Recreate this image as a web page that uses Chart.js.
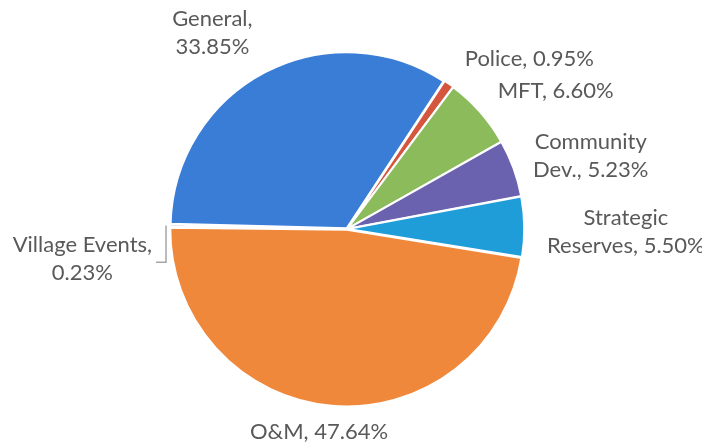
<!DOCTYPE html>
<html>
<head>
<meta charset="utf-8">
<script src="https://cdn.jsdelivr.net/npm/chart.js@4/dist/chart.umd.min.js"></script>
<style>
  html, body { margin: 0; padding: 0; background: #fff; }
  canvas { display: block; }
</style>
</head>
<body>
<canvas id="myChart" width="702" height="448"></canvas>
<script>
// Fund shares (percent of total), clockwise from the General slice
const categories = ['General', 'Police', 'MFT', 'Community Dev.', 'Strategic Reserves', 'O&M', 'Village Events'];
const shares = [33.85, 0.95, 6.60, 5.23, 5.50, 47.64, 0.23];

const sliceColors = [
  '#3A7DD6', // General
  '#D4563E', // Police
  '#8CBB5C', // MFT
  '#6A62AE', // Community Dev.
  '#1E9DD9', // Strategic Reserves
  '#F0883C', // O&M
  '#A5A5A5'  // Village Events
];

// label placement tweaks, roughly how Excel put them
const labelStyle = [
  { align: 'center', wrap: 95,  dx: -43, dy: -21 },
  { align: 'left',   wrap: 999, dx: 4,   dy: -8 },
  { align: 'left',   wrap: 999, dx: 2,   dy: -7 },
  { align: 'left',   wrap: 125, dx: 0,   dy: -5 },
  { align: 'left',   wrap: 170, dx: 2,   dy: 5 },
  { align: 'center', wrap: 999, dx: -11, dy: 6 },
  { align: 'right',  wrap: 150, dx: 3,   dy: 34, leader: true }
];

function wrapText(ctx, text, maxWidth) {
  const words = text.split(' ');
  const lines = [];
  let line = '';
  words.forEach(w => {
    const test = line ? line + ' ' + w : w;
    if (line && ctx.measureText(test).width > maxWidth) {
      lines.push(line);
      line = w;
    } else {
      line = test;
    }
  });
  if (line) lines.push(line);
  return lines;
}

const outsideLabels = {
  id: 'outsideLabels',
  afterDatasetsDraw(chart, args, opts) {
    const ctx = chart.ctx;
    const meta = chart.getDatasetMeta(0);
    const lineH = opts.lineHeight;
    ctx.save();
    ctx.font = opts.font;
    ctx.fillStyle = opts.color;
    ctx.textBaseline = 'middle';
    ctx.textAlign = 'center';
    meta.data.forEach((arc, i) => {
      const p = arc.getProps(['x', 'y', 'startAngle', 'endAngle', 'outerRadius'], true);
      const mid = (p.startAngle + p.endAngle) / 2;
      const r = p.outerRadius + opts.gap;
      const st = labelStyle[i];
      const ax = p.x + Math.cos(mid) * r + st.dx;
      const ay = p.y + Math.sin(mid) * r + st.dy;
      const text = categories[i] + ', ' + shares[i].toFixed(2) + '%';
      const lines = wrapText(ctx, text, st.wrap);
      const blockW = Math.max(...lines.map(l => ctx.measureText(l).width));
      let cx = ax;
      if (st.align === 'left') cx = ax + blockW / 2;
      if (st.align === 'right') cx = ax - blockW / 2;
      const top = ay - (lines.length - 1) * lineH / 2;
      lines.forEach((l, k) => ctx.fillText(l, cx, top + k * lineH));

      if (st.leader) {
        const ex = p.x + Math.cos(mid) * (p.outerRadius + 3);
        const ey = p.y + Math.sin(mid) * (p.outerRadius + 3);
        ctx.strokeStyle = '#A6A6A6';
        ctx.lineWidth = 1.5;
        ctx.beginPath();
        ctx.moveTo(cx + blockW / 2 + 4, ay + 3);
        ctx.lineTo(ex - 2, ay + 3);
        ctx.lineTo(ex - 2, ey);
        ctx.stroke();
      }
    });
    ctx.restore();
  }
};

const ctx = document.getElementById('myChart').getContext('2d');

new Chart(ctx, {
  type: 'pie',
  data: {
    labels: categories,
    datasets: [{
      data: shares,
      backgroundColor: sliceColors,
      borderColor: '#ffffff',
      borderWidth: 2,
      offset: 3
    }]
  },
  options: {
    responsive: false,
    animation: false,
    radius: 176,
    rotation: 271.5,
    layout: {
      padding: { top: 53, bottom: 43, left: 0, right: 8 }
    },
    plugins: {
      legend: { display: false },
      tooltip: { enabled: false },
      outsideLabels: {
        font: '22px Lato',
        color: '#595959',
        lineHeight: 28,
        gap: 22
      }
    }
  },
  plugins: [outsideLabels]
});
</script>
</body>
</html>
